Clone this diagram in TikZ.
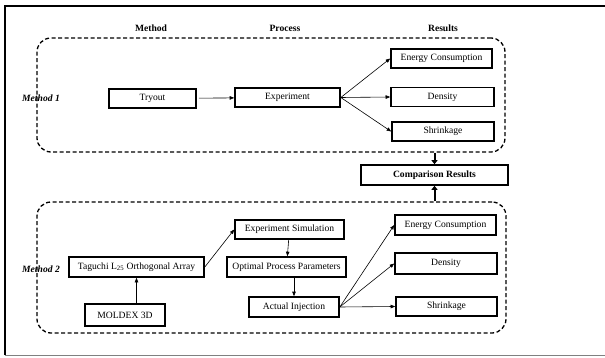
\documentclass[tikz,border=0pt]{standalone}
\usepackage{fontspec}
\setmainfont{Liberation Serif}
\usepackage{xcolor}
\usepackage{tikz}
\usetikzlibrary{arrows.meta,positioning,calc}

\begin{document}
\begin{tikzpicture}[x=1pt, y=-1pt,
    every node/.style={font=\fontsize{9.6}{11}\selectfont},
    box/.style={draw, line width=1.6pt, minimum height=19pt, inner sep=0pt},
    grpbox/.style={draw, dashed, line width=1.3pt, dash pattern=on 4pt off 2.5pt, rounded corners=14pt, inner sep=0pt},
    flow/.style={line width=0.6pt, -{Triangle[length=4.5pt, width=3.5pt]}},
    bigflow/.style={line width=2pt, -{Triangle[length=4pt, width=6pt]}}]
    \useasboundingbox (0,0) rectangle (605,358);

    % Outer frame
    \draw[line width=1.4pt] (5,355) -- (5,6) -- (610,6);
    \draw[gray, line width=1pt] (5,355) -- (610,355);

    % Column headings
    \node[font=\fontsize{9.6}{11}\selectfont\bfseries] (hmethod) at (151,28) {Method};
    \node[font=\fontsize{9.6}{11}\selectfont\bfseries] (hprocess) at (285,28) {Process};
    \node[font=\fontsize{9.6}{11}\selectfont\bfseries] (hresults) at (443,28) {Results};

    % Method 1
    \node[grpbox, minimum width=468pt, minimum height=114pt] (grpone) at (271,95) {};
    \node[font=\fontsize{9.6}{11}\selectfont\bfseries\itshape] (labone) at (41,98) {Method 1};
    \node[box, minimum width=87pt] (tryout) at (152.5,98.5) {Tryout};
    \node[box, minimum width=105pt] (exper) at (287.5,97.5) {Experiment};
    \node[box, minimum width=101pt] (energyone) at (441.5,58.5) {Energy Consumption};
    \node[box, minimum width=103pt] (densone) at (442.5,97) {Density};
    \node[box, minimum width=102pt] (shrinkone) at (443,131.5) {Shrinkage};

    \draw[flow, shorten <=2pt] (tryout) -- (exper);
    \draw[flow] (exper.east) -- (energyone.west);
    \draw[flow] (exper.east) -- (densone.west);
    \draw[flow] (exper.east) -- (shrinkone.west);

    % Comparison
    \node[box, minimum width=147pt, minimum height=20pt, font=\fontsize{9.6}{11}\selectfont\bfseries] (compare) at (434.5,175) {Comparison Results};

    % Method 2
    \node[grpbox, minimum width=469pt, minimum height=131pt] (grptwo) at (271.5,267.5) {};
    \node[font=\fontsize{9.6}{11}\selectfont\bfseries\itshape] (labtwo) at (41,269) {Method 2};
    \node[box, minimum width=135pt, minimum height=20pt] (taguchi) at (136.5,267) {Taguchi L\textsubscript{25} Orthogonal Array};
    \node[box, minimum width=80pt, minimum height=22pt] (moldex) at (125,315) {MOLDEX 3D};
    \node[box, minimum width=109pt] (expsim) at (289.5,229.5) {Experiment Simulation};
    \node[box, minimum width=119pt, minimum height=20pt] (optimal) at (286.5,267) {Optimal Process Parameters};
    \node[box, minimum width=90pt, minimum height=20pt] (actual) at (294,307) {Actual Injection};
    \node[box, minimum width=101pt, minimum height=20pt] (energytwo) at (445.5,225) {Energy Consumption};
    \node[box, minimum width=102pt, minimum height=21pt] (denstwo) at (446,263.5) {Density};
    \node[box, minimum width=101pt] (shrinktwo) at (446.5,306.5) {Shrinkage};

    \draw[flow] (moldex.north -| taguchi.south) -- (taguchi.south);
    \draw[flow] (taguchi.east) -- (expsim.west);
    \draw[flow] (expsim) -- (optimal);
    \draw[flow] (optimal.south -| actual.north) -- (actual.north);
    \draw[flow] (actual.east) -- (energytwo.west);
    \draw[flow] (actual.east) -- (denstwo.west);
    \draw[flow] (actual.east) -- (shrinktwo.west);

    % Into the comparison
    \draw[bigflow] (grpone.south -| compare) -- (compare.north);
    \draw[bigflow] (grptwo.north -| compare) -- (compare.south);
\end{tikzpicture}
\end{document}
